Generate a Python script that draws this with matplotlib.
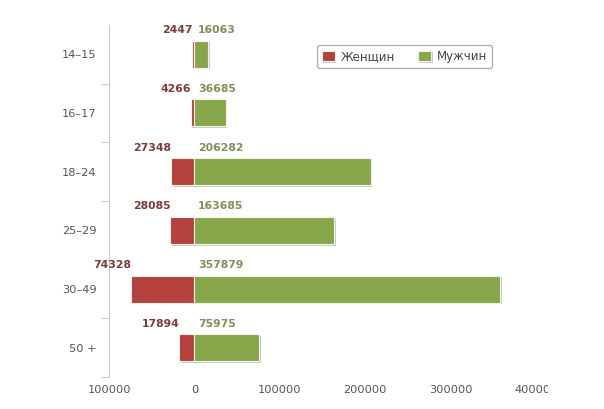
import matplotlib.pyplot as plt
from matplotlib.patches import Rectangle
import matplotlib.patheffects as pe

ages = ['14–15', '16–17', '18–24', '25–29', '30–49', '50 +']
women = [2447, 4266, 27348, 28085, 74328, 17894]
men = [16063, 36685, 206282, 163685, 357879, 75975]
xticks = [-100000, 0, 100000, 200000, 300000, 400000]
xtick_labels = ['100000', '0', '100000', '200000', '300000', '400000']

red = '#b5413d'
green = '#87a74a'
red_txt = '#7b3a3c'
green_txt = '#7f9158'
grey = '#555555'

fig = plt.figure(figsize=(6.04, 4.09), dpi=100)
ax = fig.add_axes([0.1805, 0.078, 0.735, 0.861])

y = list(range(len(ages)))
shadow = [pe.SimplePatchShadow(offset=(1.2, -1.2), alpha=0.25), pe.Normal()]
bw = ax.barh(y, [-v for v in women], height=0.46, color=red, edgecolor='#f4f0ea', linewidth=0.8)
bm = ax.barh(y, men, height=0.46, color=green, edgecolor='#f4f4e6', linewidth=0.8)
for b in list(bw) + list(bm):
    b.set_path_effects(shadow)

for i in y:
    ax.text(-women[i] + 500, i - 0.41, str(women[i]), ha='right', va='center',
            fontsize=7.8, fontweight='bold', color=red_txt)
    ax.text(4000, i - 0.41, str(men[i]), ha='left', va='center',
            fontsize=7.8, fontweight='bold', color=green_txt)

ax.set_xlim(-100000, 420000)
ax.set_ylim(len(ages) - 0.5, -0.5)

# category labels as minor ticks, separators as major ticks
ax.set_yticks([i + 0.5 for i in y])
ax.set_yticklabels([])
ax.set_yticks(y, minor=True)
ax.set_yticklabels(ages, minor=True)
ax.tick_params(axis='y', which='major', length=6, color='#cccccc', width=0.8)
ax.tick_params(axis='y', which='minor', length=0, pad=9, labelsize=8.2, labelcolor=grey)

ax.set_xticks(xticks)
ax.set_xticklabels(xtick_labels)
ax.tick_params(axis='x', length=0, pad=6, labelsize=8.2, labelcolor=grey)

for s in ['top', 'right', 'bottom']:
    ax.spines[s].set_visible(False)
ax.spines['left'].set_color('#cccccc')
ax.spines['left'].set_linewidth(0.8)

# the last tick label is cut off in the original
clip = Rectangle((0, 0), 548 / 604, 1, transform=fig.transFigure, visible=False)
fig.add_artist(clip)
for lbl in ax.get_xticklabels():
    lbl.set_clip_path(clip)
    lbl.set_clip_on(True)

leg = fig.legend(handles=[bw, bm], labels=['Женщин', 'Мужчин'], loc='center',
                 bbox_to_anchor=(0.67, 0.862), ncol=2, fontsize=8.5,
                 frameon=True, fancybox=True, edgecolor='#999999',
                 handlelength=1.1, handleheight=1.0, columnspacing=2.0,
                 handletextpad=0.5, borderpad=0.4)
leg.get_frame().set_linewidth(0.9)
for t in leg.get_texts():
    t.set_color('#444444')

fig.savefig('out.png', dpi=100)
